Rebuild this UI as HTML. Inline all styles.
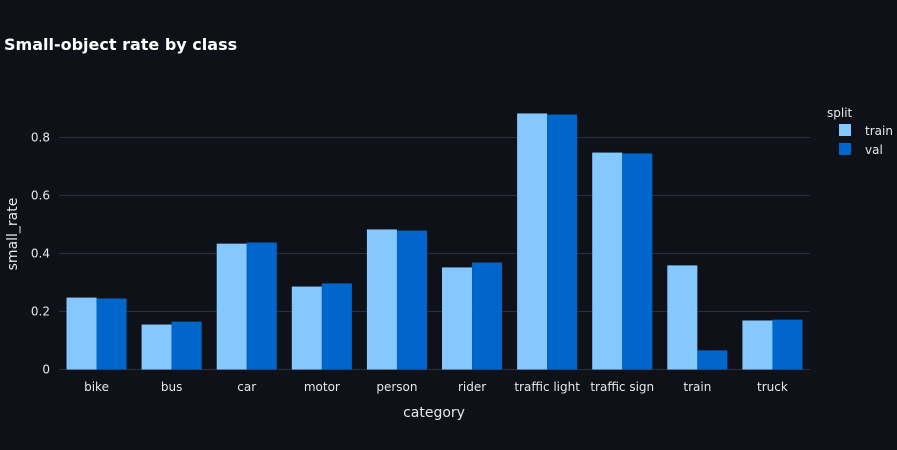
<!DOCTYPE html>
<html><head><meta charset="utf-8"><style>
body{margin:0;background:#0e1118;}
svg{display:block;font-family:"DejaVu Sans","Liberation Sans",sans-serif;}
</style></head><body>
<svg id="c" width="897" height="450">
<rect width="897" height="450" fill="#0e1118"/>
<text x="4" y="50" fill="#ffffff" font-size="16" font-weight="bold">Small-object rate by class</text>
<g id="grid"></g><g id="bars"></g><g id="xt"></g><g id="yt"></g>
<text x="434" y="417" fill="#e8e8e8" font-size="14" text-anchor="middle">category</text>
<text transform="translate(17,234) rotate(-90)" fill="#e8e8e8" font-size="14" text-anchor="middle">small_rate</text>
<g>
<text x="827" y="117" fill="#e8e8e8" font-size="12">split</text>
<rect x="839" y="124" width="12" height="12" fill="#85c8ff"/>
<text x="865" y="135" fill="#e8e8e8" font-size="12">train</text>
<rect x="839" y="143" width="12" height="12" fill="#0066cc"/>
<text x="865" y="154" fill="#e8e8e8" font-size="12">val</text>
</g>
</svg>
<script>
const categories=["bike","bus","car","motor","person","rider","traffic light","traffic sign","train","truck"];
const trainValues=[0.248,0.155,0.434,0.286,0.483,0.352,0.883,0.748,0.359,0.169];
const valValues=[0.245,0.165,0.438,0.297,0.479,0.369,0.879,0.745,0.066,0.172];
const yTicks=[0,0.2,0.4,0.6,0.8];
const yTickLabels=["0","0.2","0.4","0.6","0.8"];
const NS="http://www.w3.org/2000/svg";
const x0=59,x1=810,yBase=369.5,pxPer=290;
const step=(x1-x0)/categories.length;
const y=v=>yBase-v*pxPer;
function mk(t,a,p){const e=document.createElementNS(NS,t);for(const k in a)e.setAttribute(k,a[k]);document.getElementById(p).appendChild(e);return e;}
yTicks.forEach((t,i)=>{
  if(t>0){const l=mk('line',{x1:x0,x2:x1,y1:y(t),y2:y(t),stroke:'#283040','stroke-width':1},'grid');
  
  }
  const tx=mk('text',{x:50,y:y(t)+4,fill:'#e8e8e8','font-size':12,'text-anchor':'end'},'yt');
  tx.textContent=yTickLabels[i];
  
  
});
const bw=step*0.4;
categories.forEach((c,i)=>{
  const cx=x0+step*(i+0.5);
  const a=mk('rect',{x:cx-bw,y:y(trainValues[i]),width:bw,height:trainValues[i]*pxPer,fill:'#85c8ff'},'bars');
  
  
  const b=mk('rect',{x:cx,y:y(valValues[i]),width:bw,height:valValues[i]*pxPer,fill:'#0066cc'},'bars');
  
  
  const t=mk('text',{x:cx,y:391,fill:'#e8e8e8','font-size':12,'text-anchor':'middle'},'xt');
  t.textContent=c;
  
  
});
const z=mk('line',{x1:x0,x2:x1,y1:yBase,y2:yBase,stroke:'#283040','stroke-width':1},'grid');


</script>
</body></html>
